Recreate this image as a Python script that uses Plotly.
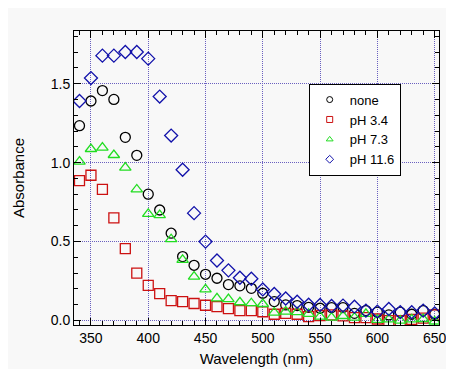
import plotly.graph_objects as go

wavelength = list(range(340, 651, 10))

none = [1.234, 1.39, 1.456, 1.40, 1.16, 1.046, 0.80, 0.70, 0.553, 0.405, 0.35, 0.293,
        0.268, 0.228, 0.22, 0.204, 0.173, 0.12, 0.099, 0.095, 0.084, 0.078, 0.082, 0.082,
        0.046, 0.063, 0.053, 0.036, 0.053, 0.04, 0.063, 0.04]
ph34 = [0.886, 0.92, 0.83, 0.65, 0.456, 0.30, 0.223, 0.17, 0.126, 0.12, 0.108, 0.097,
        0.088, 0.076, 0.063, 0.063, 0.056, 0.04, 0.046, 0.04, 0.025, 0.032, 0.036, 0.03,
        0.019, 0.019, 0.01, 0.0, 0.0, 0.008, 0.015, 0.036]
ph73 = [1.006, 1.086, 1.095, 1.048, 0.968, 0.83, 0.675, 0.668, 0.515, 0.384, 0.278, 0.198,
        0.141, 0.136, 0.116, 0.11, 0.105, 0.05, 0.057, 0.053, 0.042, 0.025, 0.019, 0.029,
        0.019, 0.042, 0.004, 0.008, 0.0, 0.008, 0.01, -0.006]
ph116 = [1.39, 1.535, 1.677, 1.677, 1.70, 1.70, 1.658, 1.418, 1.171, 0.955, 0.68, 0.50,
         0.38, 0.318, 0.271, 0.265, 0.197, 0.168, 0.14, 0.119, 0.1, 0.099, 0.092, 0.095,
         0.088, 0.063, 0.057, 0.073, 0.053, 0.053, 0.063, 0.046]

series = [
    ("none", none, "circle-open", "#000000", 10),
    ("pH 3.4", ph34, "square-open", "#cc1111", 10),
    ("pH 7.3", ph73, "triangle-up-open", "#22dd22", 10),
    ("pH 11.6", ph116, "diamond-open", "#1111aa", 10),
]

fig = go.Figure()
for name, vals, sym, col, sz in series:
    fig.add_trace(go.Scatter(x=wavelength, y=vals, mode="markers", name=name,
                             showlegend=False,
                             marker=dict(symbol=sym, size=sz, color=col,
                                         line=dict(width=1.3, color=col))))
for name, vals, sym, col, sz in series:
    fig.add_trace(go.Scatter(x=[None], y=[None], mode="markers", name=name,
                             marker=dict(symbol=sym, size=6, color=col,
                                         line=dict(width=1, color=col))))

bg = "#f8f8f8"
grid = "#6a60c0"
lx, ly = 0.643, 0.821
fig.update_layout(
    width=454, height=369,
    margin=dict(l=66, r=23, t=23, b=52),
    paper_bgcolor=bg, plot_bgcolor=bg,
    font=dict(family="Liberation Sans, Arial, sans-serif", size=14, color="#000000"),
    showlegend=True,
    legend=dict(x=lx, y=ly, xanchor="left", yanchor="top",
                bgcolor="#ffffff", bordercolor="#000000", borderwidth=1,
                font=dict(size=13), tracegroupgap=0, itemwidth=30),
)
fig.update_xaxes(
    range=[335.2, 653.8], showline=True, linecolor="#000000", linewidth=1, mirror="ticks",
    ticks="inside", ticklen=7, tickcolor="#000000", dtick=50, tick0=350,
    minor=dict(ticks="inside", ticklen=4, dtick=10, tickcolor="#000000", showgrid=False),
    showgrid=True, gridcolor=grid, griddash="1px,1px", gridwidth=1,
    zeroline=False, automargin=False,
    title=dict(text="Wavelength (nm)", font=dict(size=15), standoff=8),
    tickfont=dict(size=14),
)
fig.update_yaxes(
    range=[-0.028, 1.833], showline=True, linecolor="#000000", linewidth=1, mirror="ticks",
    ticks="inside", ticklen=7, tickcolor="#000000", dtick=0.5, tick0=0, tickformat=".1f",
    minor=dict(ticks="inside", ticklen=4, dtick=0.1, tickcolor="#000000", showgrid=False),
    showgrid=True, gridcolor=grid, griddash="1px,1px", gridwidth=1,
    zeroline=False, automargin=False,
    title=dict(text="Absorbance", font=dict(size=15), standoff=22),
    tickfont=dict(size=14),
)
fig.write_html("out.html")
